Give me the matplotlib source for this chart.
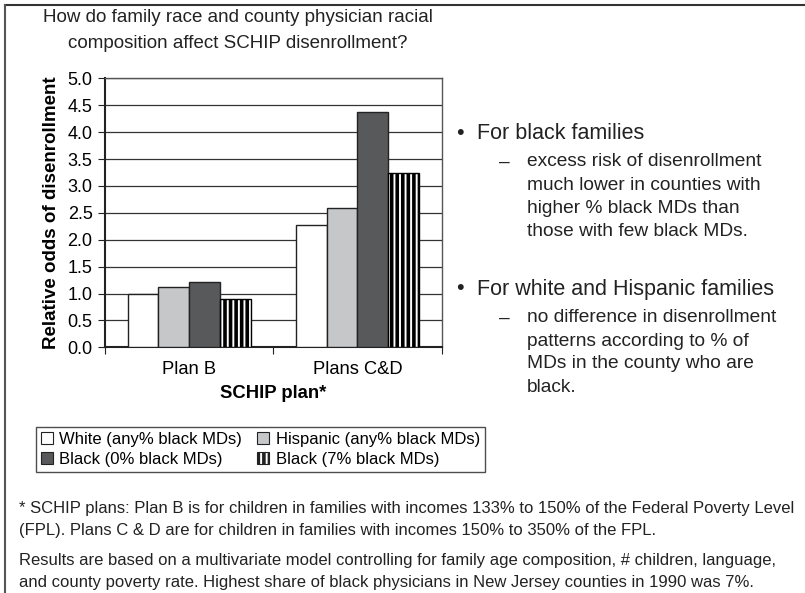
import numpy as np
import matplotlib.pyplot as plt
from matplotlib.patches import Patch
from matplotlib.lines import Line2D

plt.rcParams['font.family'] = ['Liberation Sans', 'DejaVu Sans']
plt.rcParams['hatch.linewidth'] = 2.6

# data
plans = ['Plan B', 'Plans C&D']
series = ['White (any% black MDs)', 'Hispanic (any% black MDs)',
          'Black (0% black MDs)', 'Black (7% black MDs)']
white = [1.0, 2.28]
hispanic = [1.13, 2.58]
black0 = [1.22, 4.37]
black7 = [0.9, 3.24]
yticks = [0.0, 0.5, 1.0, 1.5, 2.0, 2.5, 3.0, 3.5, 4.0, 4.5, 5.0]

W, H = 805, 593
fig = plt.figure(figsize=(W / 100, H / 100), dpi=100)

def fx(px):
    return px / W

def fy(py):
    return 1 - py / H

ax = fig.add_axes([fx(105), fy(347.3), fx(441.5) - fx(105), fy(78.3) - fy(347.3)])

x = np.arange(len(plans))
bw = 0.183
styles = [
    dict(color='white', edgecolor='#222222'),
    dict(color='#c6c7c9', edgecolor='#222222'),
    dict(color='#58595b', edgecolor='#222222'),
    dict(color='white', edgecolor='black', hatch='|||'),
]
vals = [white, hispanic, black0, black7]
for i, (v, st) in enumerate(zip(vals, styles)):
    ax.bar(x + (i - 1.5) * bw, v, bw, linewidth=1.0, zorder=3, **st)

ax.set_xlim(-0.5, 1.5)
ax.set_ylim(0, 5)
ax.set_yticks(yticks)
ax.set_yticklabels([f'{t:.1f}' for t in yticks], fontsize=13)
ax.yaxis.grid(True, color='#333333', linewidth=0.9, zorder=0)
ax.set_axisbelow(True)
ax.set_xticks([-0.5, 0.5, 1.5])
ax.set_xticklabels([])
ax.set_xticks(x, minor=True)
ax.set_xticklabels(plans, minor=True, fontsize=13.2)
ax.tick_params(axis='x', which='minor', length=0, pad=10)
ax.tick_params(axis='x', which='major', length=5, direction='out', color='#222222')
ax.tick_params(axis='y', length=5, direction='out', color='#222222', pad=4)
for s in ['top', 'right']:
    ax.spines[s].set_color('#555555')
    ax.spines[s].set_linewidth(1.0)
for s in ['left', 'bottom']:
    ax.spines[s].set_color('#222222')
    ax.spines[s].set_linewidth(1.5)
ax.set_xlabel('SCHIP plan*', fontsize=13.3, fontweight='bold', labelpad=5)
ax.set_ylabel('Relative odds of disenrollment', fontsize=13.5, fontweight='bold', labelpad=5)

# title
fig.text(fx(238), fy(18), 'How do family race and county physician racial',
         ha='center', va='center', fontsize=13.5, color='#222222')
fig.text(fx(238), fy(44), 'composition affect SCHIP disenrollment?',
         ha='center', va='center', fontsize=13.5, color='#222222')

# legend (row-wise order: white, hispanic / black0, black7)
handles = [Patch(facecolor=st['color'], edgecolor='#222222', hatch=st.get('hatch'), linewidth=0.8)
           for st in styles]
order = [0, 2, 1, 3]
leg = fig.legend([handles[i] for i in order], [series[i] for i in order], ncol=2,
                 loc='center', bbox_to_anchor=(fx(260.5), fy(449.5)),
                 fontsize=12, frameon=True, fancybox=False, edgecolor='#222222',
                 handlelength=0.7, handleheight=0.7, handletextpad=0.4, columnspacing=0.9,
                 borderpad=0.3, labelspacing=0.3)
leg.get_frame().set_linewidth(1.0)

# bullets on the right
tc = '#222222'
fs = 15.5
fs2 = 13.75
fig.text(fx(456), fy(133), '•', fontsize=fs, va='center', color=tc)
fig.text(fx(477), fy(133), 'For black families', fontsize=fs, va='center', color=tc)
fig.text(fx(499), fy(162), '–', fontsize=fs2, va='center', color=tc)
for k, line in enumerate(['excess risk of disenrollment', 'much lower in counties with',
                          'higher % black MDs than', 'those with few black MDs.']):
    fig.text(fx(527), fy(162 + 23 * k), line, fontsize=fs2, va='center', color=tc)
fig.text(fx(456), fy(289), '•', fontsize=fs, va='center', color=tc)
fig.text(fx(477), fy(289), 'For white and Hispanic families', fontsize=fs, va='center', color=tc)
fig.text(fx(499), fy(318), '–', fontsize=fs2, va='center', color=tc)
for k, line in enumerate(['no difference in disenrollment', 'patterns according to % of',
                          'MDs in the county who are', 'black.']):
    fig.text(fx(527), fy(318 + 23 * k), line, fontsize=fs2, va='center', color=tc)

# footnotes
notes = [
    (509, '* SCHIP plans: Plan B is for children in families with incomes 133% to 150% of the Federal Poverty Level'),
    (530, '(FPL). Plans C & D are for children in families with incomes 150% to 350% of the FPL.'),
    (561, 'Results are based on a multivariate model controlling for family age composition, # children, language,'),
    (582, 'and county poverty rate. Highest share of black physicians in New Jersey counties in 1990 was 7%.'),
]
for py, t in notes:
    fig.text(fx(19), fy(py), t, fontsize=12, va='center', color=tc)

# frame lines (top and left)
fig.add_artist(Line2D([fx(5), 1], [fy(5), fy(5)], color='#333333', linewidth=1.5))
fig.add_artist(Line2D([fx(5), fx(5)], [fy(5), 0], color='#555555', linewidth=1.5))

fig.savefig('out.png', dpi=100)
